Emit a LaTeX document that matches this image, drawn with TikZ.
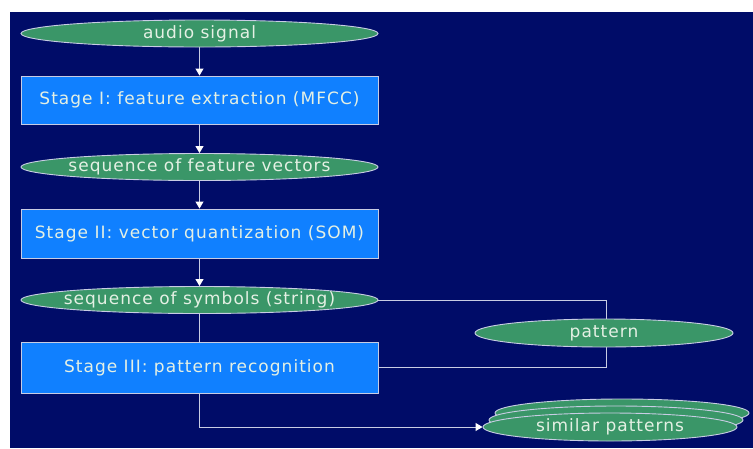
\documentclass[tikz,border=0pt]{standalone}
\usepackage{fontspec}
\setmainfont[LetterSpace=6]{DejaVu Sans}
\usetikzlibrary{shapes.geometric,arrows.meta}
\definecolor{navy}{RGB}{0,12,104}
\definecolor{ovalgreen}{RGB}{58,150,104}
\definecolor{boxblue}{RGB}{16,128,255}
\definecolor{txtc}{RGB}{228,240,228}
\definecolor{edgec}{RGB}{200,205,228}
\pgfdeclarelayer{back}
\pgfdeclarelayer{lines}
\pgfsetlayers{back,lines,main}
\begin{document}
\begin{tikzpicture}[x=1pt,y=-1pt,
  lbl/.style={text=txtc, inner sep=0pt, font=\fontsize{17}{19}\selectfont},
  oval/.style={ellipse, draw=edgec, line width=0.9pt, fill=ovalgreen,
    minimum width=357pt, minimum height=27pt, inner sep=0pt, label={[lbl]center:#1}},
  stagebox/.style={rectangle, draw=edgec, line width=0.9pt, fill=boxblue, text=txtc,
    minimum width=357pt, inner sep=0pt, font=\fontsize{17}{19}\selectfont},
  conn/.style={draw=edgec, line width=1pt},
  arr/.style={conn, -{Triangle[width=8pt,length=7pt,fill=white,color=white]}}]
\useasboundingbox (0,0) rectangle (753,448);
\begin{pgfonlayer}{back}
\fill[white] (0,0) rectangle (753,448);
\fill[navy] (10,12) rectangle (753,448);
\end{pgfonlayer}

\node[oval={audio signal}] (audio) at (199.5,33.5) {};
\node[stagebox, minimum height=48pt] (s1) at (199.5,100) {Stage I: feature extraction (MFCC)};
\node[oval={sequence of feature vectors}] (fv) at (199.5,167) {};
\node[stagebox, minimum height=49pt] (s2) at (199.5,233.5) {Stage II: vector quantization (SOM)};
\node[oval={sequence of symbols (string)}] (sym) at (199.5,300) {};
\node[stagebox, minimum height=51pt] (s3) at (199.5,367.5) {Stage III: pattern recognition};
\node[oval={pattern}, minimum width=258pt, minimum height=28pt] (pat) at (604,333) {};

\node[oval={}, minimum width=254pt, minimum height=28pt] (simb) at (622,413) {};
\node[oval={}, minimum width=254pt, minimum height=28pt] (simm) at (616,420) {};
\node[oval={similar patterns}, minimum width=254pt, minimum height=28pt] (sim) at (610,427) {};

\coordinate (jn) at (606,300);
\begin{pgfonlayer}{lines}
\draw[arr] (audio.south) -- (s1.north);
\draw[arr] (s1.south) -- (fv.north);
\draw[arr] (fv.south) -- (s2.north);
\draw[arr] (s2.south) -- (sym.north);
\draw[conn] (sym.south) -- (s3.north);
\draw[conn] (sym.east) -- (jn) |- (s3.east);
\draw[arr] (s3.south) |- (sim.west);
\end{pgfonlayer}
\end{tikzpicture}
\end{document}
